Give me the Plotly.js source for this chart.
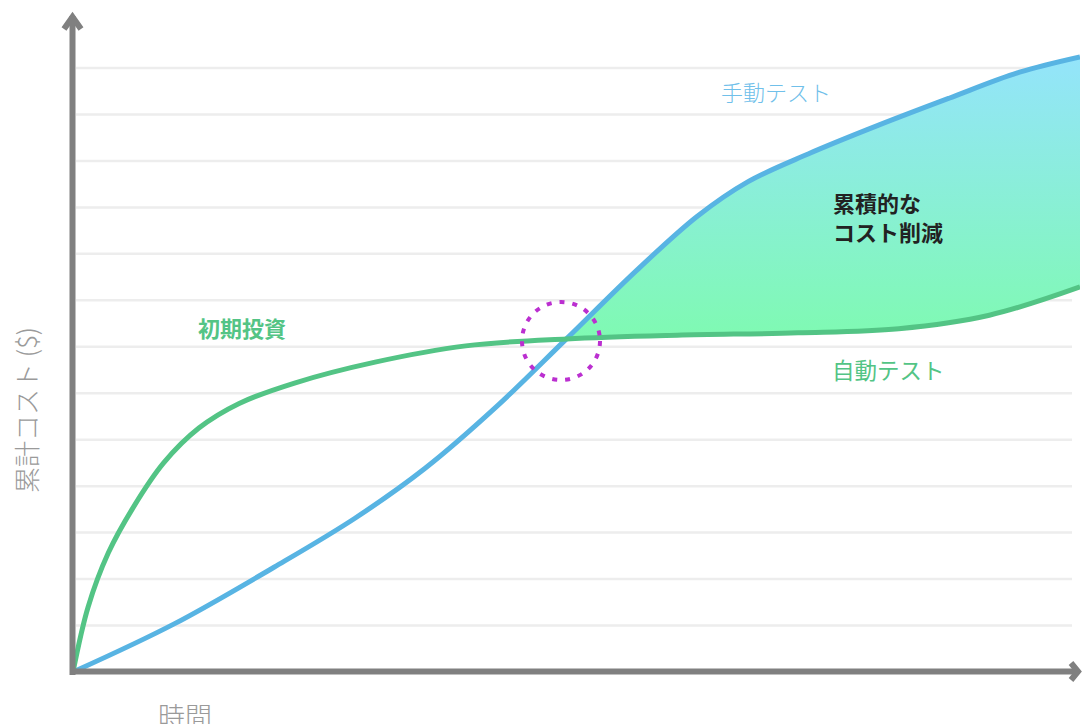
<!DOCTYPE html>
<html>
<head>
<meta charset="utf-8">
<script src="https://cdn.plot.ly/plotly-3.0.1.min.js"></script>
<style>
  html, body { margin: 0; padding: 0; background: #fff; }
  #chart { width: 1082px; height: 724px; }
</style>
</head>
<body>
<div id="chart"></div>
<script>
// ---- data ----
const automatedX    = [0, 0.15, 0.35, 0.6, 0.9, 1.25, 1.65, 2.2, 3.0, 3.9, 4.9, 6.0, 7.2, 8.2, 9.1, 10];
const automatedCost = [0, 1.40, 2.56, 3.55, 4.50, 5.25, 5.78, 6.22, 6.67, 7.02, 7.17, 7.25, 7.30, 7.39, 7.68, 8.29];
const manualX       = [0, 1.0, 2.0, 2.8, 3.5, 4.2, 4.9, 5.6, 6.2, 6.7, 7.3, 8.0, 8.7, 9.4, 10];
const manualCost    = [0, 1.03, 2.26, 3.31, 4.39, 5.70, 7.17, 8.65, 9.81, 10.55, 11.15, 11.77, 12.35, 12.91, 13.24];
const gridLevels = [1, 2, 3, 4, 5, 6, 7, 8, 9, 10, 11, 12, 13];
const breakEvenX = 4.9;

const labelManual = '手動テスト';
const labelAuto = '自動テスト';
const labelSavings = '累積的な<br>コスト削減';
const labelInitial = '初期投資';
const yTitle = '累計コスト ($)';
const xTitle = '時間';

// ---- layout helpers (pixel -> paper) ----
const L = 73, R = 1080, T = 14, B = 672;
const PX = p => (p - L) / (R - L);
const PY = p => (B - p) / (B - T);
const Y_MAX = 14.163;

const FONT = '"Noto Sans CJK JP", "Noto Sans", sans-serif';
const BLUE = '#58b4e3';
const GREEN = '#53c485';
const GRAY = '#808080';

const ai = automatedX.indexOf(breakEvenX);
const mi = manualX.indexOf(breakEvenX);

const traces = [
  { x: automatedX.slice(ai), y: automatedCost.slice(ai), mode: 'lines',
    line: { width: 0, shape: 'spline', smoothing: 1 }, hoverinfo: 'skip', showlegend: false },
  { x: manualX.slice(mi), y: manualCost.slice(mi), mode: 'lines', fill: 'tonexty',
    fillgradient: { type: 'vertical', colorscale: [[0, '#7ffab2'], [1, '#94e4fb']] },
    line: { width: 0, shape: 'spline', smoothing: 1 }, hoverinfo: 'skip', showlegend: false },
  { x: manualX, y: manualCost, mode: 'lines', name: labelManual,
    line: { color: BLUE, width: 5, shape: 'spline', smoothing: 1 }, showlegend: false },
  { x: automatedX, y: automatedCost, mode: 'lines', name: labelAuto,
    line: { color: GREEN, width: 5, shape: 'spline', smoothing: 1 }, showlegend: false }
];

const shapes = [];
gridLevels.forEach(v => {
  shapes.push({ type: 'line', layer: 'below', xref: 'paper', yref: 'y',
    x0: PX(76), x1: PX(1072), y0: v, y1: v,
    line: { color: '#ededed', width: 2.5 } });
});
// axes
shapes.push({ type: 'line', layer: 'above', xref: 'paper', yref: 'paper',
  x0: PX(72.5), x1: PX(72.5), y0: PY(675), y1: PY(16), line: { color: GRAY, width: 6 } });
shapes.push({ type: 'line', layer: 'above', xref: 'paper', yref: 'paper',
  x0: PX(70), x1: PX(1078), y0: PY(671.5), y1: PY(671.5), line: { color: GRAY, width: 6 } });
// arrowheads
shapes.push({ type: 'path', layer: 'above', xref: 'paper', yref: 'paper',
  path: `M ${PX(64)} ${PY(29)} L ${PX(72.5)} ${PY(17)} L ${PX(81)} ${PY(29)}`,
  line: { color: GRAY, width: 6 } });
shapes.push({ type: 'path', layer: 'above', xref: 'paper', yref: 'paper',
  path: `M ${PX(1071)} ${PY(663)} L ${PX(1078)} ${PY(671.5)} L ${PX(1071)} ${PY(680)}`,
  line: { color: GRAY, width: 6 } });
// break-even circle
shapes.push({ type: 'circle', layer: 'above', xref: 'paper', yref: 'paper',
  x0: PX(522), x1: PX(600), y0: PY(380), y1: PY(302),
  line: { color: '#bb2fd0', width: 4, dash: '5px,8px' } });

const ann = (text, px, py, opts) => Object.assign({
  text, xref: 'paper', yref: 'paper', x: PX(px), y: PY(py),
  showarrow: false, xanchor: 'center', yanchor: 'middle'
}, opts);

const annotations = [
  ann(labelManual, 776, 91, { font: { family: FONT, size: 22, color: '#70c0ea', weight: 300 } }),
  ann(labelSavings, 831, 216, { xanchor: 'left', align: 'left',
    font: { family: FONT, size: 22, color: '#222222', weight: 700 } }),
  ann(labelInitial, 242, 327, { font: { family: FONT, size: 22, color: GREEN, weight: 700 } }),
  ann(labelAuto, 888, 369, { font: { family: FONT, size: 22.5, color: GREEN } }),
  ann(yTitle, 26, 410, { textangle: -90, font: { family: FONT, size: 26, color: '#9a9a9a', weight: 300 } }),
  ann(xTitle, 185, 715, { font: { family: FONT, size: 27, color: '#9a9a9a', weight: 300 } })
];

const layout = {
  width: 1082, height: 724,
  margin: { l: L, r: 1082 - R, t: T, b: 724 - B, pad: 0 },
  paper_bgcolor: '#ffffff', plot_bgcolor: '#ffffff',
  xaxis: { range: [0, 10], visible: false, fixedrange: true },
  yaxis: { range: [0, Y_MAX], visible: false, fixedrange: true },
  shapes, annotations, showlegend: false,
  font: { family: FONT }
};

Plotly.newPlot('chart', traces, layout, { displayModeBar: false, staticPlot: true });
</script>
</body>
</html>
